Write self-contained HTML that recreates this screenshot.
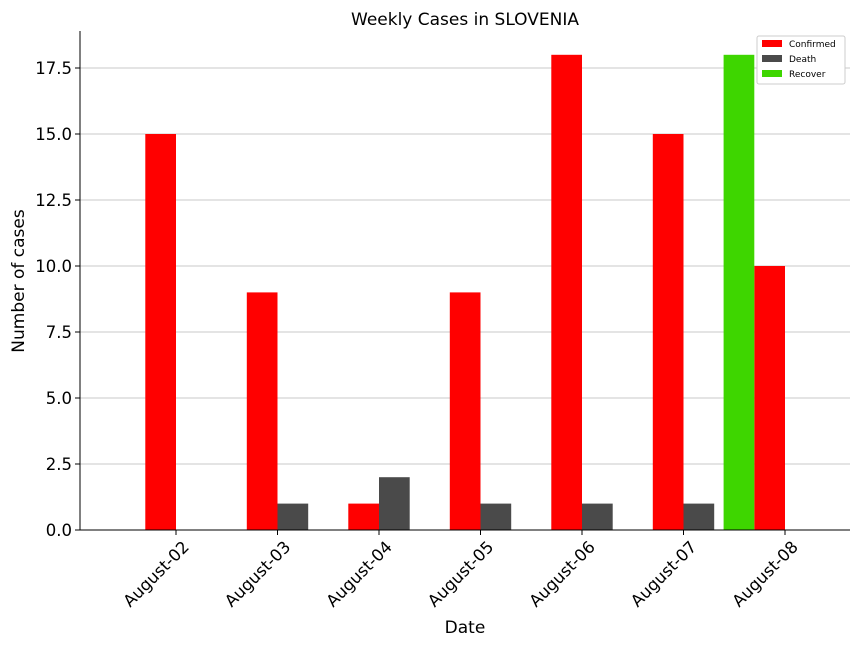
<!DOCTYPE html>
<html><head><meta charset="utf-8"><style>
body{margin:0;background:#fff;}
svg text{font-family:"DejaVu Sans","Liberation Sans",sans-serif;}
</style></head><body>
<svg id="chart" width="864" height="648" xmlns="http://www.w3.org/2000/svg">
<rect width="864" height="648" fill="#fff"/>
<text x="465" y="25" font-size="17" text-anchor="middle">Weekly Cases in SLOVENIA</text>
<g id="grid"></g><g id="bars"></g><g id="axes"></g>
<text x="465" y="633" font-size="17" text-anchor="middle">Date</text>
<text transform="translate(24,281) rotate(-90)" font-size="17" text-anchor="middle">Number of cases</text>
<g>
<rect x="757" y="36" width="88" height="48" fill="#fff" stroke="#ccc" rx="2"/>
<rect x="762" y="40" width="20" height="7" fill="#ff0000"/><text x="789" y="47" font-size="9">Confirmed</text>
<rect x="762" y="55" width="20" height="7" fill="#4a4a4a"/><text x="789" y="62" font-size="9">Death</text>
<rect x="762" y="70" width="20" height="7" fill="#3ed600"/><text x="789" y="77" font-size="9">Recover</text>
</g>
</svg>
<script>
const categories=["August-02","August-03","August-04","August-05","August-06","August-07","August-08"];
const confirmed=[15,9,1,9,18,15,10];
const death=[0,1,2,1,1,1,0];
const recover=[0,0,0,0,0,0,18];
const yTicks=[0,2.5,5,7.5,10,12.5,15,17.5];
const NS="http://www.w3.org/2000/svg";
const x0=80,x1=850,yTop=31,yBase=530,unit=(530-68)/17.5,bw=30.7;
function xs(i){return 176+101.5*i;}
function ys(v){return yBase-v*unit;}
function mk(t,a,p){const e=document.createElementNS(NS,t);for(const k in a)e.setAttribute(k,a[k]);p.appendChild(e);return e;}
const grid=document.getElementById('grid'),bars=document.getElementById('bars'),axes=document.getElementById('axes');
yTicks.forEach(v=>{
 const l=mk('line',{x1:x0,x2:x1,y1:ys(v),y2:ys(v),stroke:'#c8c8c8','stroke-width':1},grid);
 
 
 mk('line',{x1:x0-5,x2:x0,y1:ys(v),y2:ys(v),stroke:'#000'},axes);
 const t=mk('text',{x:x0-8,y:ys(v)+6,'font-size':16.5,'text-anchor':'end'},axes);
 t.textContent=v.toFixed(1);
 
 
});
function series(arr,off,color,name){
 arr.forEach((v,i)=>{if(v<=0)return;
  const r=mk('rect',{x:xs(i)+off*bw,y:ys(v),width:bw,height:yBase-ys(v),fill:color},bars);
  
  
 });
}
series(confirmed,-1,'#ff0000','confirmed');
series(death,0,'#4a4a4a','death');
series(recover,-2,'#3ed600','recover');
mk('line',{x1:x0,x2:x0,y1:yTop,y2:yBase,stroke:'#000'},axes);
mk('line',{x1:x0,x2:x1,y1:yBase,y2:yBase,stroke:'#000'},axes);
categories.forEach((c,i)=>{
 const x=xs(i);
 mk('line',{x1:x,x2:x,y1:yBase,y2:yBase+5,stroke:'#000'},axes);
 const t=mk('text',{transform:`translate(${x+14},${yBase+18}) rotate(-45)`,'font-size':16.5,'text-anchor':'end'},axes);
 t.textContent=c;
 
 
});
</script>
</body></html>
